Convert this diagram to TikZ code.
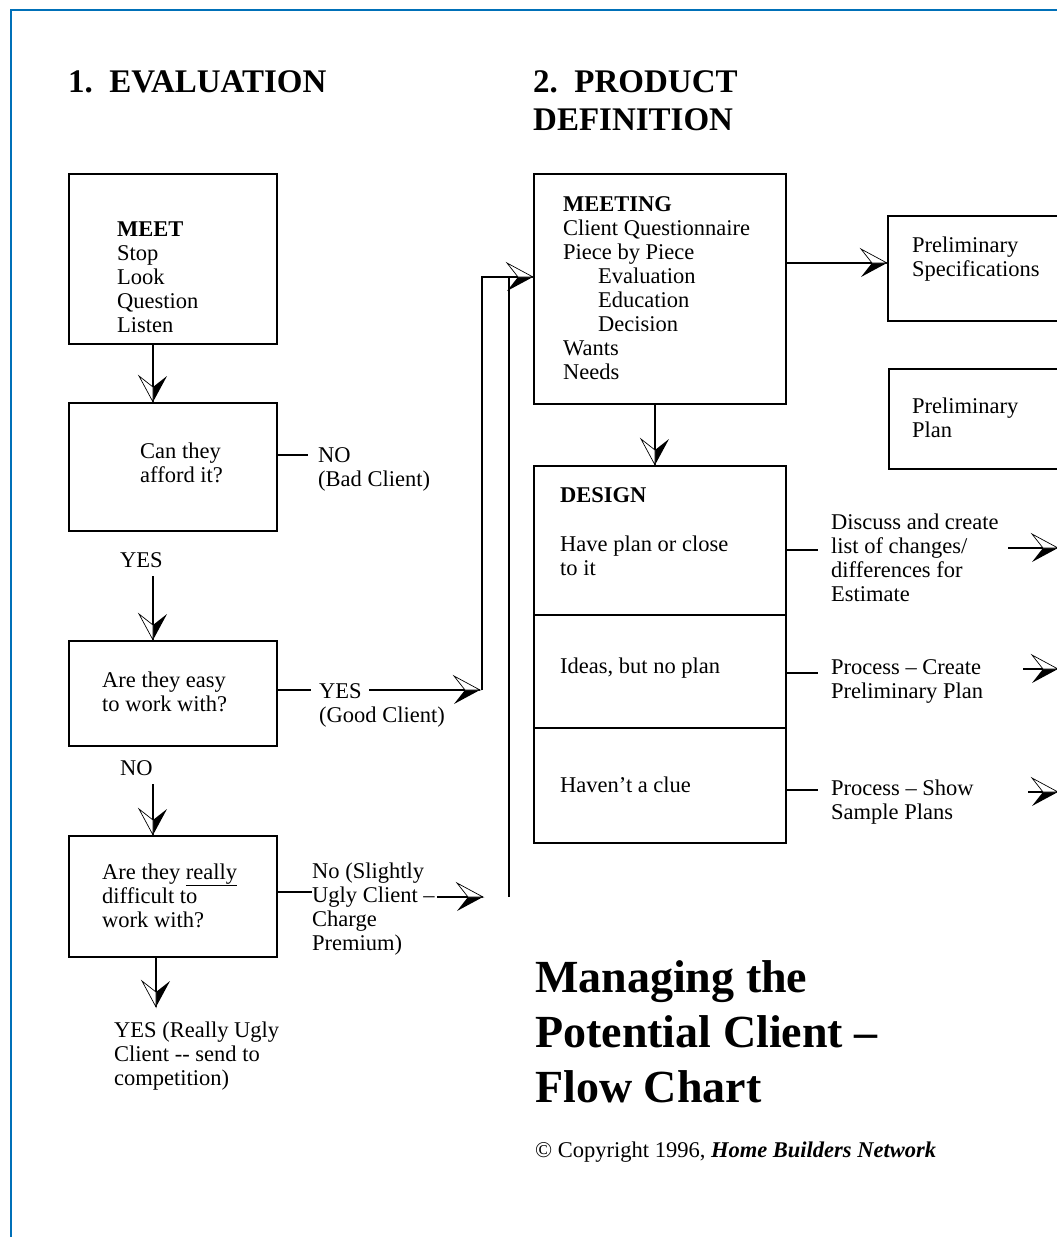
\documentclass[tikz,border=0pt]{standalone}
\usepackage{fontspec}
\setmainfont{Liberation Serif}
\usetikzlibrary{decorations.markings}

\definecolor{frameblue}{RGB}{0,112,184}
\newcommand\bodyfont{\fontsize{22.5}{24}\selectfont}
\newcommand\headfont{\fontsize{33}{38}\selectfont\bfseries}
\newcommand\titlefont{\fontsize{46}{55}\selectfont\bfseries}
% half open, half filled arrow head
\newcommand\halfhead[1]{%
  \fill (0,0) -- (-26pt,{(#1)*14pt}) -- (-15pt,0) -- cycle;
  \filldraw[fill=white,line width=0.7pt] (0,0) -- (-26pt,{-(#1)*14pt}) -- (-15pt,0) -- cycle;}

\tikzset{
  box/.style={draw,line width=1.6pt,inner sep=0pt,anchor=north west},
  txt/.style={anchor=base west,inner sep=0pt,align=left,font=\bodyfont},
  link/.style={line width=1.6pt},
  tipto/.style={link,postaction={decorate,decoration={markings,
      mark=at position 1 with {\halfhead{#1}}}}},
}

\begin{document}
\begin{tikzpicture}[x=1pt,y=-1pt]
  \useasboundingbox (0,0) rectangle (1057,1237);
  \draw[frameblue,line width=2.5pt] (11,1240) -- (11,10) -- (1060,10);

  % headings (multi-line texts sit on their last baseline)
  \node[txt,font=\headfont] (evalhead) at (68,92) {1.\ \ EVALUATION};
  \node[txt,font=\headfont] (prodhead) at (533,130) {2.\ \ PRODUCT\\DEFINITION};

  % evaluation column
  \coordinate (spineL) at (153,0);
  \coordinate (spineB) at (156,0);
  \node[box,minimum width=208pt,minimum height=170pt] (meet) at (68,173) {};
  \node[txt] (meettxt) at (117,332) {\textbf{MEET}\\Stop\\Look\\Question\\Listen};
  \node[box,minimum width=208pt,minimum height=128pt] (afford) at (68,402) {};
  \node[txt] (affordtxt) at (140,482) {Can they\\afford it?};
  \node[box,minimum width=208pt,minimum height=105pt] (easy) at (68,640) {};
  \node[txt] (easytxt) at (102,711) {Are they easy\\to work with?};
  \node[box,minimum width=208pt,minimum height=121pt] (difficult) at (68,835) {};
  \node[txt] (difficulttxt) at (102,927) {Are they \underline{really}\\difficult to\\work with?};

  \node[txt] (badlbl) at (318,486) {NO\\(Bad Client)};
  \node[txt,inner ysep=9pt] (yesA) at (120,567) {YES};
  \node[txt] (goodlbl) at (319,722) {YES\\(Good Client)};
  \node[txt,inner ysep=9pt] (noA) at (120,775) {NO};
  \node[txt] (uglylbl) at (312,950) {No (Slightly\\Ugly Client --\\Charge\\Premium)};
  \node[txt] (reallylbl) at (114,1085) {YES (Really Ugly\\Client -{}- send to\\competition)};

  \coordinate (badend) at (308,455);
  \coordinate (goodstart) at (311,690);
  \coordinate (goodfrom) at (369,690);
  \coordinate (goodto) at (480,690);
  \coordinate (riseA) at (482,690);
  \coordinate (uglystart) at (312,892);
  \coordinate (uglyfrom) at (437,897);
  \coordinate (uglyto) at (483,897);
  \coordinate (riseB) at (509,897);
  \coordinate (meetin) at (0,277);
  \coordinate (reallytop) at (156,1007);

  \draw[tipto=1] (meet.south -| spineL) -- (afford.north -| spineL);
  \draw[link] (afford.east |- badend) -- (badend);
  \draw[tipto=1] (yesA.south -| spineL) -- (easy.north -| spineL);
  \draw[link] (easy.east |- goodstart) -- (goodstart);
  \draw[tipto=-1] (goodfrom) -- (goodto);
  \draw[tipto=1] (noA.south -| spineL) -- (difficult.north -| spineL);
  \draw[link] (difficult.east |- uglystart) -- (uglystart);
  \draw[tipto=-1] (uglyfrom) -- (uglyto);
  \draw[tipto=1] (difficult.south -| spineB) -- (reallytop);

  % product definition column
  \node[box,minimum width=252pt,minimum height=230pt] (meeting) at (533,173) {};
  \node[txt] (meetingtxt) at (563,379) {\textbf{MEETING}\\Client Questionnaire\\Piece by Piece\\
    \hspace*{35pt}Evaluation\\\hspace*{35pt}Education\\\hspace*{35pt}Decision\\Wants\\Needs};
  \node[box,minimum width=200pt,minimum height=105pt] (specs) at (887,215) {};
  \node[txt] (specstxt) at (912,276) {Preliminary\\Specifications};
  \node[box,minimum width=200pt,minimum height=100pt] (plan) at (888,368) {};
  \node[txt] (plantxt) at (912,437) {Preliminary\\Plan};

  \draw[tipto=-1] (riseA) |- (meeting.west |- meetin);
  \draw[link] (riseB) -- (riseB |- meetin);

  \coordinate (spineR) at (655,0);
  \coordinate (specsin) at (0,263);
  \draw[tipto=-1] (meeting.east |- specsin) -- (specs.west |- specsin);

  \node[box,minimum width=252pt,minimum height=377pt] (design) at (533,465) {};
  \draw[link] ([yshift=-150pt]design.north west) -- ([yshift=-150pt]design.north east);
  \draw[link] ([yshift=-263pt]design.north west) -- ([yshift=-263pt]design.north east);
  \draw[tipto=1] (meeting.south -| spineR) -- (design.north -| spineR);

  \node[txt] (designtxt) at (560,575) {\textbf{DESIGN}\\[25pt]Have plan or close\\to it};
  \node[txt] (ideastxt) at (560,673) {Ideas, but no plan};
  \node[txt] (cluetxt) at (560,792) {Haven't a clue};

  \node[txt] (discusslbl) at (831,601) {Discuss and create\\list of changes/\\differences for\\Estimate};
  \node[txt] (createlbl) at (831,698) {Process -- Create\\Preliminary Plan};
  \node[txt] (samplelbl) at (831,819) {Process -- Show\\Sample Plans};

  \coordinate (discussend) at (818,550);
  \coordinate (createend) at (818,673);
  \coordinate (sampleend) at (818,790);
  \draw[link] (design.east |- discussend) -- (discussend);
  \draw[link] (design.east |- createend) -- (createend);
  \draw[link] (design.east |- sampleend) -- (sampleend);

  \coordinate (discussfrom) at (1008,548);
  \coordinate (discussto) at (1058,548);
  \coordinate (createfrom) at (1023,669);
  \coordinate (createto) at (1058,669);
  \coordinate (samplefrom) at (1028,792);
  \coordinate (sampleto) at (1058,792);
  \draw[tipto=-1] (discussfrom) -- (discussto);
  \draw[tipto=-1] (createfrom) -- (createto);
  \draw[tipto=-1] (samplefrom) -- (sampleto);

  % title
  \node[txt,font=\titlefont] (title) at (535,1102) {Managing the\\Potential Client --\\Flow Chart};
  \node[txt] (copyright) at (535,1157) {© Copyright 1996, \textbf{\textit{Home Builders Network}}};
\end{tikzpicture}
\end{document}
